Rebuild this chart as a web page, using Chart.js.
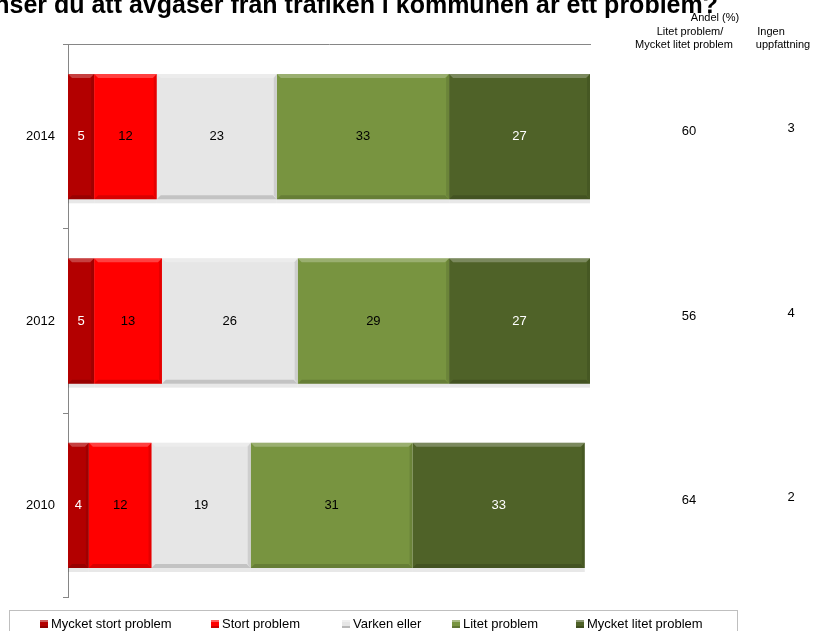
<!DOCTYPE html>
<html>
<head>
<meta charset="utf-8">
<script src="https://cdn.jsdelivr.net/npm/chart.js@4.4.1/dist/chart.umd.min.js"></script>
<style>
  body { margin: 0; background: #fff; }
  canvas { display: block; }
</style>
</head>
<body>
<canvas id="grafico" width="817" height="631"></canvas>
<script>
const years = ['2014', '2012', '2010'];
const mycketStort = [5, 5, 4];
const stort = [12, 13, 12];
const varken = [23, 26, 19];
const litet = [33, 29, 31];
const mycketLitet = [27, 27, 33];
const andelLitet = [60, 56, 64];
const ingenUppfattning = [3, 4, 2];

const seriesNames = ['Mycket stort problem', 'Stort problem', 'Varken eller', 'Litet problem', 'Mycket litet problem'];
const seriesColors = ['#B30000', '#FF0000', '#E6E6E6', '#789440', '#4F6228'];
const labelColors = ['#ffffff', '#000000', '#000000', '#000000', '#ffffff'];

const titel = 'Anser du att avgaser från trafiken i kommunen är ett problem?';
const legendTextX = [51, 222, 353, 463, 587];
const arial = 'Arial, "Liberation Sans", sans-serif';

// skugga + fasad kant som i Excel
const bevel = {
  id: 'bevel',
  beforeDatasetsDraw(chart) {
    const ctx = chart.ctx;
    ctx.save();
    chart.data.datasets.forEach((ds, i) => {
      chart.getDatasetMeta(i).data.forEach(bar => {
        const top = bar.y - bar.height / 2;
        ctx.fillStyle = 'rgba(0,0,0,0.09)';
        ctx.fillRect(bar.base, top + 4, bar.x - bar.base, bar.height);
      });
    });
    ctx.restore();
  },
  afterDatasetsDraw(chart) {
    const ctx = chart.ctx;
    const b = 4;
    ctx.save();
    chart.data.datasets.forEach((ds, i) => {
      chart.getDatasetMeta(i).data.forEach((bar, j) => {
        const l = bar.base, r = bar.x;
        const t = bar.y - bar.height / 2, btm = bar.y + bar.height / 2;
        const poly = (pts, col) => {
          ctx.beginPath();
          ctx.moveTo(pts[0][0], pts[0][1]);
          pts.slice(1).forEach(p => ctx.lineTo(p[0], p[1]));
          ctx.closePath();
          ctx.fillStyle = col;
          ctx.fill();
        };
        poly([[l, t], [r, t], [r - b, t + b], [l + b, t + b]], 'rgba(255,255,255,0.25)');
        poly([[l, btm], [r, btm], [r - b, btm - b], [l + b, btm - b]], 'rgba(0,0,0,0.15)');
        poly([[r, t], [r, btm], [r - 3, btm - b], [r - 3, t + b]], 'rgba(0,0,0,0.10)');

        // värdeetikett
        ctx.fillStyle = labelColors[i];
        ctx.font = '13px ' + arial;
        ctx.textAlign = 'center';
        ctx.textBaseline = 'middle';
        ctx.fillText(ds.data[j], (l + r) / 2, bar.y);
      });
    });
    ctx.restore();
  }
};

const extra = {
  id: 'extra',
  afterDraw(chart) {
    const ctx = chart.ctx;
    const y = chart.scales.y;
    ctx.save();

    // titel (beskuren i original)
    ctx.fillStyle = '#000';
    ctx.font = 'bold 25px ' + arial;
    ctx.textAlign = 'right';
    ctx.textBaseline = 'alphabetic';
    ctx.fillText(titel, 718, 12.5);

    // rubriker till höger
    ctx.font = '11px ' + arial;
    ctx.textAlign = 'center';
    ctx.textBaseline = 'middle';
    ctx.fillText('Andel (%)', 715, 18);
    ctx.fillText('Litet problem/', 690, 32);
    ctx.fillText('Mycket litet problem', 684, 45);
    ctx.fillText('Ingen', 771, 32);
    ctx.fillText('uppfattning', 783, 45);

    ctx.font = '13px ' + arial;
    years.forEach((yr, i) => {
      const py = y.getPixelForValue(i);
      ctx.fillText(andelLitet[i], 689, py - 5);
      ctx.fillText(ingenUppfattning[i], 791, py - 8);
    });

    // förklaring
    ctx.strokeStyle = '#BFBFBF';
    ctx.lineWidth = 1;
    ctx.strokeRect(9.5, 610.5, 728, 30);
    ctx.textAlign = 'left';
    seriesNames.forEach((name, i) => {
      const tx = legendTextX[i];
      ctx.fillStyle = seriesColors[i];
      ctx.fillRect(tx - 11, 620, 8, 8);
      ctx.fillStyle = 'rgba(255,255,255,0.35)';
      ctx.fillRect(tx - 11, 620, 8, 2);
      ctx.fillStyle = 'rgba(0,0,0,0.2)';
      ctx.fillRect(tx - 11, 626, 8, 2);
      ctx.fillStyle = '#000';
      ctx.fillText(name, tx, 624.5);
    });
    ctx.restore();
  }
};

const datasets = [mycketStort, stort, varken, litet, mycketLitet].map((d, i) => ({
  label: seriesNames[i],
  data: d,
  backgroundColor: seriesColors[i],
  borderWidth: 0,
  barPercentage: 0.68,
  categoryPercentage: 1
}));

new Chart(document.getElementById('grafico'), {
  type: 'bar',
  data: { labels: years, datasets: datasets },
  options: {
    indexAxis: 'y',
    responsive: false,
    animation: false,
    devicePixelRatio: 1,
    layout: { padding: { top: 44.5, right: 227, bottom: 33.5, left: 0 } },
    plugins: {
      legend: { display: false },
      tooltip: { enabled: false }
    },
    scales: {
      x: {
        stacked: true,
        min: 0,
        max: 100,
        position: 'top',
        ticks: { display: false },
        grid: { display: false },
        border: { display: true, color: '#868686' },
        afterFit(scale) { scale.height = 0; }
      },
      y: {
        stacked: true,
        grid: { drawOnChartArea: false, drawTicks: true, tickLength: 5, color: '#868686' },
        border: { display: true, color: '#868686' },
        ticks: { color: '#000', padding: 8, font: { family: arial, size: 13 } },
        afterFit(scale) { scale.width = 68; }
      }
    }
  },
  plugins: [bevel, extra]
});
</script>
</body>
</html>
